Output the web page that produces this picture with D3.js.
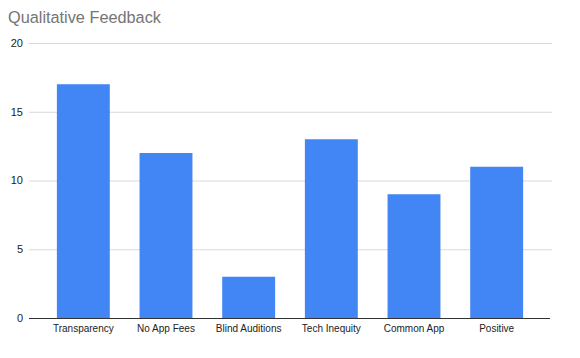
<!DOCTYPE html>
<html><head><meta charset="utf-8">
<script src="https://cdn.jsdelivr.net/npm/d3@7"></script>
<style>body{margin:0;background:#fff;}svg{display:block;font-family:"Liberation Sans",Arial,sans-serif;}</style>
</head><body>
<svg id="c" width="580" height="358"></svg>
<script>
const categories = ["Transparency","No App Fees","Blind Auditions","Tech Inequity","Common App","Positive"];
const values = [17,12,3,13,9,11];
const yTicks = [0,5,10,15,20];

(function(){
const svg = d3.select("#c");
const mLeft = 29, mRight = 552, mTop = 43, mBottom = 318;
const x = d3.scaleBand().domain(categories).range([42, 538]).paddingInner(0.36).paddingOuter(0.18);
const y = d3.scaleLinear().domain([0,20]).range([mBottom, mTop]);

svg.append("text").attr("x", 8).attr("y", 23).attr("font-size", 16.3).attr("fill", "#757575").text("Qualitative Feedback");

const g = svg.append("g");
g.selectAll("line.grid").data(yTicks.filter(d=>d>0)).join("line")
  .attr("x1", mLeft).attr("x2", mRight).attr("y1", d=>y(d)+0.5).attr("y2", d=>y(d)+0.5)
  .attr("stroke", "#d9d9d9").attr("stroke-width", 1);
g.selectAll("text.yt").data(yTicks).join("text")
  .attr("x", 23).attr("y", d=>y(d)).attr("dy", "0.35em").attr("text-anchor", "end")
  .attr("font-size", 11).attr("fill", "#222").text(d=>d);

g.selectAll("rect").data(values).join("rect")
  .attr("x", (d,i)=>x(categories[i])).attr("width", x.bandwidth())
  .attr("y", d=>y(d)).attr("height", d=>mBottom - y(d)).attr("fill", "#4285F4");

g.append("line").attr("x1", mLeft).attr("x2", 550).attr("y1", mBottom+0.5).attr("y2", mBottom+0.5).attr("stroke", "#333").attr("stroke-width", 1);

g.selectAll("text.xt").data(categories).join("text")
  .attr("x", d=>x(d)+x.bandwidth()/2).attr("y", 332).attr("text-anchor", "middle")
  .attr("font-size", 10).attr("fill", "#222").text(d=>d);
})();
</script>
</body></html>
